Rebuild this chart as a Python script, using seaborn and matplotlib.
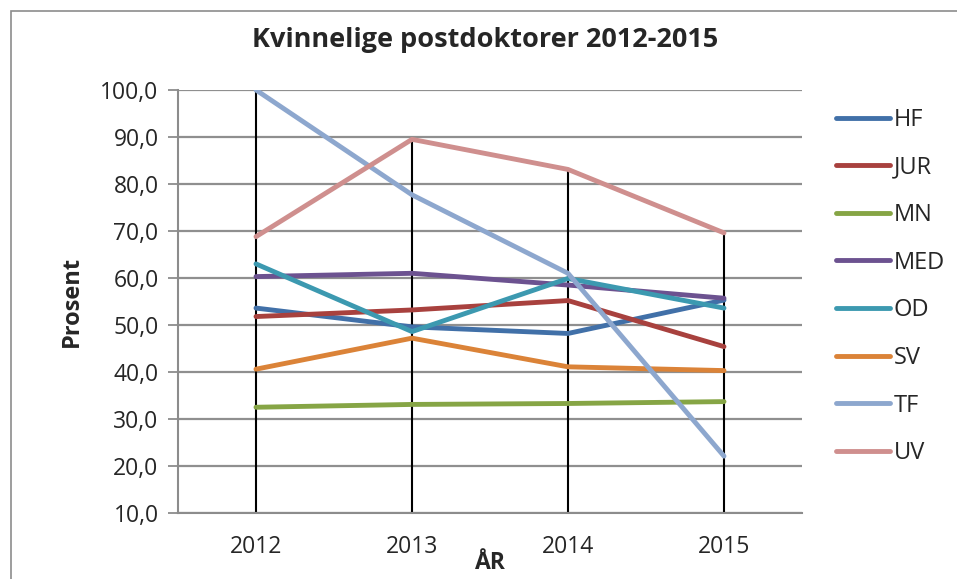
import pandas as pd
import seaborn as sns
import matplotlib.pyplot as plt
from matplotlib.patches import Rectangle

# Kvinnelige postdoktorer per fakultet (prosent)
years = [2012, 2013, 2014, 2015]
faculties = ["HF", "JUR", "MN", "MED", "OD", "SV", "TF", "UV"]
hf = [53.6, 49.6, 48.2, 55.3]
jur = [51.8, 53.2, 55.2, 45.4]
mn = [32.5, 33.1, 33.3, 33.7]
med = [60.3, 61.0, 58.5, 55.7]
od = [63.0, 48.6, 59.9, 53.6]
sv = [40.6, 47.2, 41.1, 40.3]
tf = [100.0, 77.7, 61.0, 22.1]
uv = [68.8, 89.5, 83.1, 69.6]
colors = ["#4170A8", "#A8413E", "#86A545", "#6C5290",
          "#3C99B0", "#DB8338", "#8DA7CE", "#CF8F8E"]

series = [hf, jur, mn, med, od, sv, tf, uv]
rows = []
for name, vals in zip(faculties, series):
    for yr, v in zip(years, vals):
        rows.append({"År": yr, "Prosent": v, "Fakultet": name})
df = pd.DataFrame(rows)

sns.set_style("white")
plt.rcParams['font.family'] = ['Open Sans', 'DejaVu Sans']

fig = plt.figure(figsize=(9.57, 5.79), dpi=100)
W, H = 957, 579
ax = fig.add_axes([178 / W, 1 - 513 / H, (802 - 178) / W, (513 - 90) / H])

# chart border
fig.patches.append(Rectangle((11 / W, -0.1), 1.0, 1 - 11 / H + 0.1,
                             transform=fig.transFigure, fill=False,
                             edgecolor="#8c8c8c", linewidth=1.2))

ymin, ymax = 10, 100
ax.set_ylim(ymin, ymax)
ax.set_xlim(2011.5, 2015.5)
ax.set_yticks(range(10, 101, 10))
ax.set_yticklabels([f"{v},0" for v in range(10, 101, 10)])
ax.set_xticks(years)
ax.set_xticklabels([str(y) for y in years])
ax.yaxis.grid(True, color="#8f8f8f", linewidth=1.6)
ax.set_axisbelow(True)

# drop lines from highest value down to the axis
tops = df.groupby("År")["Prosent"].max()
ax.vlines(tops.index, ymin, tops.values, color="black", linewidth=1.5, zorder=1)

sns.lineplot(data=df, x="År", y="Prosent", hue="Fakultet",
             palette=colors, linewidth=3.5, ax=ax, legend=True, zorder=3)
for ln in ax.get_lines():
    ln.set_solid_capstyle("round")

for s in ["top", "right"]:
    ax.spines[s].set_visible(False)
for s in ["left", "bottom"]:
    ax.spines[s].set_color("#8c8c8c")
    ax.spines[s].set_linewidth(1.5)
ax.tick_params(axis="y", which="major", length=7, width=1.3, color="#8c8c8c",
               labelsize=16.5, pad=7, left=True)
ax.tick_params(axis="x", length=0, labelsize=16.5, pad=16)

ax.set_xlabel("ÅR", fontsize=16.5, fontweight="bold", labelpad=-6)
ax.set_ylabel("Prosent", fontsize=17, fontweight="bold", labelpad=12)
fig.text(485 / W, 1 - 40 / H, "Kvinnelige postdoktorer 2012-2015",
         ha="center", va="center", fontsize=19.5, fontweight="bold")

handles, labels = ax.get_legend_handles_labels()
ax.get_legend().remove()
leg = fig.legend(handles, labels, loc="center left",
                 bbox_to_anchor=(836 / W, 1 - 286.5 / H), frameon=False,
                 fontsize=17, handlelength=2.3, handletextpad=0.15,
                 borderpad=0, borderaxespad=0, labelspacing=1.0)
for h in leg.get_lines():
    h.set_linewidth(3.5)
    h.set_solid_capstyle("round")

fig.savefig("out.png", dpi=100)
